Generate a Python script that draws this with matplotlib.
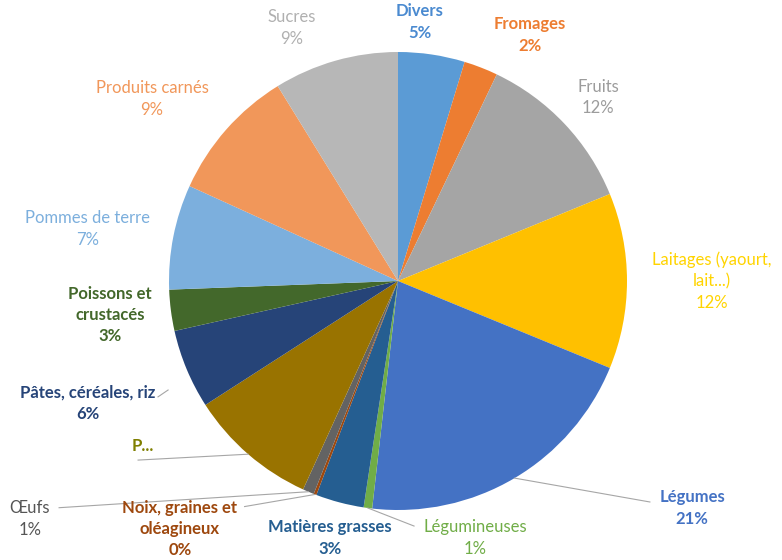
import numpy as np
import matplotlib.pyplot as plt

plt.rcParams['font.family'] = ['Lato', 'DejaVu Sans']

# data, clockwise from 12 o'clock
categories = ["Divers", "Fromages", "Fruits", "Laitages (yaourt,\nlait...)", "Légumes",
              "Légumineuses", "Matières grasses", "Noix, graines et\noléagineux", "Œufs",
              "P...", "Pâtes, céréales, riz", "Poissons et\ncrustacés", "Pommes de terre",
              "Produits carnés", "Sucres"]
shares = [4.7, 2.4, 11.7, 12.4, 20.6, 0.6, 3.4, 0.2, 0.8, 9.1, 5.6, 2.9, 7.4, 9.4, 8.8]

colors = ["#5B9BD5", "#ED7D31", "#A5A5A5", "#FFC000", "#4472C4", "#70AD47", "#255E91",
          "#9E480E", "#636363", "#997300", "#264478", "#43682B", "#7CAFDD", "#F1975A", "#B7B7B7"]
label_colors = ["#4A8AD0", "#ED7D31", "#9C9C9C", "#FFD400", "#4472C4", "#70AD47", "#255E91",
                "#9E480E", "#555555", "#7F7F00", "#264478", "#43682B", "#7CAFDD", "#F1975A", "#B0B0B0"]
bold = [True, True, False, False, True, False, True, True, False, True, True, True, False, False, False]

# label centres, in pie radii from the centre
label_pos = [(0.096, 1.131), (0.576, 1.074), (0.873, 0.803), (1.371, 0.0), (1.284, -0.991),
             (0.336, -1.122), (-0.297, -1.122), (-0.952, -1.083), (-1.607, -1.039),
             (-1.115, -0.721), (-1.354, -0.533), (-1.258, -0.148), (-1.354, 0.227),
             (-1.074, 0.795), (-0.463, 1.105)]
# leader line ends for some labels
leaders = {4: (1.10, -0.965), 5: (0.07, -1.07), 7: (-0.67, -0.985), 8: (-1.48, -0.99),
           9: (-1.135, -0.782)}

fig = plt.figure(figsize=(7.82, 5.60), dpi=100)
ax = fig.add_axes([0, 0, 1, 1])

wedges, _ = ax.pie(shares, colors=colors, startangle=90, counterclock=False,
                   radius=1, wedgeprops=dict(linewidth=0))

for i, w in enumerate(wedges):
    mid = np.deg2rad((w.theta1 + w.theta2) / 2)
    if i in leaders:
        ex, ey = leaders[i]
        ax.plot([np.cos(mid), ex], [np.sin(mid), ey], color="#A6A6A6", lw=0.8, zorder=1)
    pct = int(round(shares[i]))
    txt = categories[i] if i == 9 else f"{categories[i]}\n{pct}%"
    x, y = label_pos[i]
    ax.text(x, y, txt, ha='center', va='center', fontsize=12, linespacing=1.4,
            color=label_colors[i], fontweight='bold' if bold[i] else 'normal', zorder=3)

# small hook next to the pasta label
ax.plot([-1.048, -1.004], [-0.506, -0.476], color="#A6A6A6", lw=0.8)

ax.set_xlim(-398 / 229, (782 - 398) / 229)
ax.set_ylim(-(560 - 281) / 229, 281 / 229)
ax.set_aspect('auto')
ax.axis('off')

fig.savefig("out.png", dpi=100)
